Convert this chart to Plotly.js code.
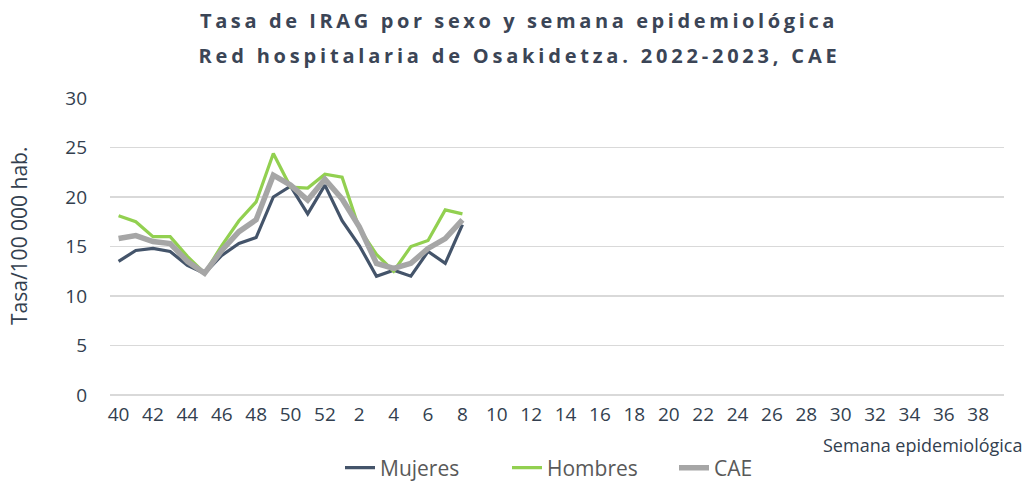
<!DOCTYPE html>
<html>
<head>
<meta charset="utf-8">
<script src="https://cdn.plot.ly/plotly-3.0.1.min.js"></script>
<style>
html,body{margin:0;padding:0;background:#fff;}
#chart{width:1030px;height:481px;}
</style>
</head>
<body>
<div id="chart"></div>
<script>
// Semanas epidemiológicas 40..52 y 1..39
const weeks = ["40","41","42","43","44","45","46","47","48","49","50","51","52",
  "1","2","3","4","5","6","7","8","9","10","11","12","13","14","15","16","17","18","19","20",
  "21","22","23","24","25","26","27","28","29","30","31","32","33","34","35","36","37","38","39"];
const tickWeeks = ["40","42","44","46","48","50","52","2","4","6","8","10","12","14","16","18",
  "20","22","24","26","28","30","32","34","36","38"];

const mujeres = [13.5,14.6,14.8,14.5,13.1,12.3,14.1,15.3,15.9,20.0,21.1,18.3,21.2,17.6,15.1,12.0,12.6,12.0,14.5,13.3,17.2];
const hombres = [18.1,17.5,16.0,16.0,14.0,12.3,15.1,17.6,19.5,24.4,21.0,20.9,22.3,22.0,16.8,14.2,12.5,15.0,15.6,18.7,18.3];
const cae     = [15.8,16.1,15.5,15.3,13.5,12.3,14.6,16.5,17.7,22.2,21.2,19.7,21.8,19.8,17.0,13.3,12.8,13.3,14.8,15.8,17.7];

const titleLines = ["Tasa de IRAG por sexo y semana epidemiológica",
                    "Red hospitalaria de Osakidetza. 2022-2023, CAE"];
const yTitle = "Tasa/100 000 hab.";
const xTitle = "Semana epidemiológica";

const xs = weeks.slice(0, mujeres.length);
const FONT = "'Open Sans', 'Noto Sans', sans-serif";

const traces = [
  {x: xs, y: mujeres, name: "Mujeres", type: "scatter", mode: "lines",
   line: {color: "#44546A", width: 3.2}},
  {x: xs, y: hombres, name: "Hombres", type: "scatter", mode: "lines",
   line: {color: "#92D050", width: 3.2}},
  {x: xs, y: cae, name: "CAE", type: "scatter", mode: "lines",
   line: {color: "#A6A6A6", width: 5.5}}
];

const layout = {
  width: 1030, height: 481,
  margin: {l: 110, r: 26, t: 98, b: 86, autoexpand: false},
  paper_bgcolor: "#fff", plot_bgcolor: "#fff",
  font: {family: FONT, color: "#333F4F"},
  xaxis: {
    type: "category",
    categoryorder: "array", categoryarray: weeks,
    range: [-0.5, weeks.length - 0.5],
    tickmode: "array", tickvals: tickWeeks, ticktext: tickWeeks,
    tickangle: 0,
    tickfont: {size: 19, color: "#333F4F", family: FONT},
    showgrid: false, zeroline: false,
    showline: false, ticks: "",
    ticklabelstandoff: 6,
    automargin: false,
    fixedrange: true
  },
  yaxis: {
    range: [0, 30], dtick: 5, tick0: 0,
    tickfont: {size: 19, color: "#333F4F", family: FONT},
    showgrid: true, gridcolor: "#D9D9D9", gridwidth: 1.5,
    zeroline: true, zerolinecolor: "#D9D9D9", zerolinewidth: 1.5,
    showline: false, ticks: "",
    ticklabelstandoff: 22,
    automargin: false,
    fixedrange: true
  },
  showlegend: true,
  legend: {
    orientation: "h", xref: "container", yref: "container",
    x: 340/1030, xanchor: "left", y: 1 - 468/481, yanchor: "middle",
    font: {size: 21, color: "#595959", family: FONT},
    entrywidth: 122, entrywidthmode: "pixels",
    tracegroupgap: 0
  },
  annotations: [
    {text: "<b>" + titleLines[0] + "</b>", xref: "paper", yref: "paper",
     x: (519-110)/894, y: (395-20)/297, xanchor: "center", yanchor: "middle",
     showarrow: false, font: {size: 20, color: "#3B4556", family: FONT}},
    {text: "<b>" + titleLines[1] + "</b>", xref: "paper", yref: "paper",
     x: (519-110)/894, y: (395-55)/297, xanchor: "center", yanchor: "middle",
     showarrow: false, font: {size: 20, color: "#3B4556", family: FONT}},
    {text: yTitle, xref: "paper", yref: "paper", textangle: -90,
     x: (19-110)/894, y: (395-236)/297, xanchor: "center", yanchor: "middle",
     showarrow: false, font: {size: 21, color: "#333F4F", family: FONT}},
    {text: xTitle, xref: "paper", yref: "paper",
     x: (1025-110)/894, y: (395-445)/297, xanchor: "right", yanchor: "middle",
     showarrow: false, font: {size: 18, color: "#333F4F", family: FONT}}
  ]
};

Plotly.newPlot("chart", traces, layout, {displayModeBar: false, staticPlot: true}).then(function(gd){
  const texts = gd.querySelectorAll(".annotation-text");
  if (texts[0]) texts[0].style.letterSpacing = "3.6px";
  if (texts[1]) texts[1].style.letterSpacing = "3.8px";
});
</script>
</body>
</html>
